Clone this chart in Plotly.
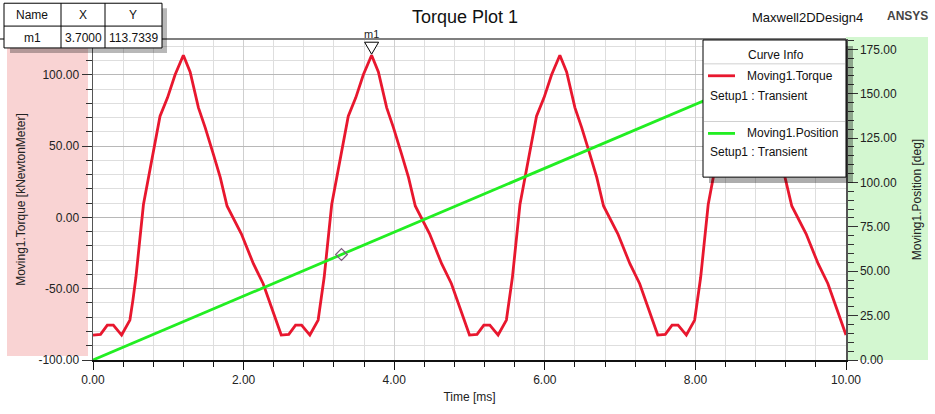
import plotly.graph_objects as go

# ---------------- data ----------------
time_ms = [
    0.00, 0.10, 0.19, 0.27, 0.38, 0.49, 0.53, 0.57, 0.67, 0.78, 0.82, 0.89, 0.99, 1.09, 1.20, 1.29, 1.40, 1.49, 1.60, 1.69, 1.78, 1.86, 1.97, 2.13, 2.26, 2.37, 2.48,
    2.50, 2.60, 2.69, 2.77, 2.88, 2.99, 3.03, 3.07, 3.17, 3.28, 3.32, 3.39, 3.49, 3.59, 3.70, 3.79, 3.90, 3.99, 4.10, 4.19, 4.28, 4.36, 4.47, 4.63, 4.76, 4.87, 4.98,
    5.00, 5.10, 5.19, 5.27, 5.38, 5.49, 5.53, 5.57, 5.67, 5.78, 5.82, 5.89, 5.99, 6.09, 6.20, 6.29, 6.40, 6.49, 6.60, 6.69, 6.78, 6.86, 6.97, 7.13, 7.26, 7.37, 7.48,
    7.50, 7.60, 7.69, 7.77, 7.88, 7.99, 8.03, 8.07, 8.17, 8.28, 8.32, 8.39, 8.49, 8.59, 8.70, 8.79, 8.90, 8.99, 9.10, 9.19, 9.28, 9.36, 9.47, 9.63, 9.76, 9.87, 9.98,
    10.00,
]
torque_kNm = [
    -82.5, -82.0, -75.5, -75.5, -82.5, -72.0, -58.0, -42.0, 9.0, 39.5, 51.0, 71.0, 84.0, 100.0, 113.73, 102.0, 77.0, 63.0, 44.0, 28.0, 8.0, 0.0, -11.5, -32.5, -46.5, -63.0, -80.5,
    -82.5, -82.0, -75.5, -75.5, -82.5, -72.0, -58.0, -42.0, 9.0, 39.5, 51.0, 71.0, 84.0, 100.0, 113.73, 102.0, 77.0, 63.0, 44.0, 28.0, 8.0, 0.0, -11.5, -32.5, -46.5, -63.0, -80.5,
    -82.5, -82.0, -75.5, -75.5, -82.5, -72.0, -58.0, -42.0, 9.0, 39.5, 51.0, 71.0, 84.0, 100.0, 113.73, 102.0, 77.0, 63.0, 44.0, 28.0, 8.0, 0.0, -11.5, -32.5, -46.5, -63.0, -80.5,
    -82.5, -82.0, -75.5, -75.5, -82.5, -72.0, -58.0, -42.0, 9.0, 39.5, 51.0, 71.0, 84.0, 100.0, 113.73, 102.0, 77.0, 63.0, 44.0, 28.0, 8.0, 0.0, -11.5, -32.5, -46.5, -63.0, -80.5,
    -82.5,
]
position_time = [0.0, 10.0]
position_deg = [0.0, 180.0]

marker_name = "m1"
marker_x = 3.7000
marker_y = 113.7339
pos_marker_x = [3.3]
pos_marker_y = [59.4]

x_tickvals = [0, 2, 4, 6, 8, 10]
x_ticktext = ["0.00", "2.00", "4.00", "6.00", "8.00", "10.00"]
yl_tickvals = [-100, -50, 0, 50, 100]
yl_ticktext = ["-100.00", "-50.00", "0.00", "50.00", "100.00"]
yr_tickvals = [0, 25, 50, 75, 100, 125, 150, 175]
yr_ticktext = ["0.00", "25.00", "50.00", "75.00", "100.00", "125.00", "150.00", "175.00"]

FONT = "Liberation Sans, Arial, sans-serif"
RED = "#e8172e"
GREEN = "#22ee22"

# ---------------- geometry helpers (pixel -> paper) ----------------
L, R, T, B = 93, 846, 39, 362
W, H = 935, 414


def px(x):
    return (x - L) / (R - L)


def py(y):
    return (B - y) / (B - T)


fig = go.Figure()

fig.add_trace(go.Scatter(x=time_ms, y=torque_kNm, mode="lines", name="Moving1.Torque",
                         line=dict(color=RED, width=2.8), yaxis="y", showlegend=False))
fig.add_trace(go.Scatter(x=position_time, y=position_deg, mode="lines", name="Moving1.Position",
                         line=dict(color=GREEN, width=2.8), yaxis="y2", showlegend=False))
fig.add_trace(go.Scatter(x=pos_marker_x, y=pos_marker_y, mode="markers", yaxis="y2", showlegend=False,
                         marker=dict(symbol="diamond-open", size=9, color="#7a5a7a", line=dict(width=1.2))))

shapes = []
annotations = []

# side bands
shapes.append(dict(type="rect", xref="paper", yref="paper", x0=px(7), x1=px(88), y0=py(358), y1=py(40),
                   fillcolor="#f9d3d3", line=dict(width=0), layer="below"))
shapes.append(dict(type="rect", xref="paper", yref="paper", x0=px(846), x1=px(928), y0=py(362), y1=py(37),
                   fillcolor="#d3f7d0", line=dict(width=0), layer="below"))
# top frame line
shapes.append(dict(type="line", xref="paper", yref="paper", x0=px(0), x1=1, y0=py(39), y1=py(39),
                   line=dict(color="#7f7f7f", width=2)))

# marker triangle m1
shapes.append(dict(type="path", xref="x", yref="y", xsizemode="pixel", ysizemode="pixel",
                   xanchor=marker_x, yanchor=marker_y, path="M -7,13 L 7,13 L 0,1 Z",
                   fillcolor="white", line=dict(color="black", width=1)))
annotations.append(dict(x=marker_x, y=marker_y, xref="x", yref="y", text=marker_name, showarrow=False,
                        yshift=21, font=dict(family=FONT, size=11, color="#222")))

# marker table
shapes.append(dict(type="rect", xref="paper", yref="paper", x0=px(10), x1=px(167), y0=py(53), y1=py(8),
                   fillcolor="rgba(0,0,0,0.28)", line=dict(width=0)))
shapes.append(dict(type="rect", xref="paper", yref="paper", x0=px(4), x1=px(162), y0=py(48), y1=py(3),
                   fillcolor="white", line=dict(color="black", width=1)))
for xv in [61, 105]:
    shapes.append(dict(type="line", xref="paper", yref="paper", x0=px(xv), x1=px(xv), y0=py(48), y1=py(3),
                       line=dict(color="black", width=1)))
shapes.append(dict(type="line", xref="paper", yref="paper", x0=px(4), x1=px(162), y0=py(26), y1=py(26),
                   line=dict(color="black", width=1)))
cells = [("Name", 32, 15), ("X", 83, 15), ("Y", 133, 15),
         (marker_name, 32, 38), (f"{marker_x:.4f}", 83, 38), (f"{marker_y:.4f}", 133, 38)]
for txt, cx, cy in cells:
    annotations.append(dict(x=px(cx), y=py(cy), xref="paper", yref="paper", text=txt, showarrow=False,
                            xanchor="center", yanchor="middle", font=dict(family=FONT, size=12, color="#111")))

# legend box
shapes.append(dict(type="rect", xref="paper", yref="paper", x0=px(709), x1=px(853), y0=py(184), y1=py(46),
                   fillcolor="rgba(0,0,0,0.32)", line=dict(width=0)))
shapes.append(dict(type="rect", xref="paper", yref="paper", x0=px(703), x1=px(846), y0=py(178), y1=py(40),
                   fillcolor="white", line=dict(color="black", width=1)))
for yv in [64, 122]:
    shapes.append(dict(type="line", xref="paper", yref="paper", x0=px(704), x1=px(845), y0=py(yv), y1=py(yv),
                       line=dict(color="#d0d0d0", width=1)))
shapes.append(dict(type="line", xref="paper", yref="paper", x0=px(708), x1=px(735), y0=py(76), y1=py(76),
                   line=dict(color=RED, width=2.8)))
shapes.append(dict(type="line", xref="paper", yref="paper", x0=px(708), x1=px(735), y0=py(134), y1=py(134),
                   line=dict(color=GREEN, width=2.8)))
leg_texts = [("Curve Info", 776, 55, "center"), ("Moving1.Torque", 745, 76, "left"),
             ("Setup1 : Transient", 708, 96, "left"), ("Moving1.Position", 745, 134, "left"),
             ("Setup1 : Transient", 708, 153, "left")]
for txt, lx, ly, anc in leg_texts:
    annotations.append(dict(x=px(lx), y=py(ly), xref="paper", yref="paper", text=txt, showarrow=False,
                            xanchor=anc, yanchor="middle", font=dict(family=FONT, size=12, color="#111")))

# titles
annotations.append(dict(x=px(465), y=py(17), xref="paper", yref="paper", text="Torque Plot 1", showarrow=False,
                        xanchor="center", yanchor="middle", font=dict(family=FONT, size=18, color="#111")))
annotations.append(dict(x=px(865), y=py(17), xref="paper", yref="paper", text="Maxwell2DDesign4", showarrow=False,
                        xanchor="right", yanchor="middle", font=dict(family=FONT, size=13, color="#111")))
annotations.append(dict(x=px(930), y=py(16), xref="paper", yref="paper", text="<b>ANSYS</b>", showarrow=False,
                        xanchor="right", yanchor="middle", font=dict(family=FONT, size=12, color="#444")))

fig.update_layout(
    width=W, height=H,
    margin=dict(l=L, r=W - R, t=T, b=H - B, pad=0),
    paper_bgcolor="white", plot_bgcolor="white",
    font=dict(family=FONT, size=12, color="#222"),
    showlegend=False, hovermode=False,
    shapes=shapes, annotations=annotations,
    xaxis=dict(range=[0, 10], tickmode="array", tickvals=x_tickvals, ticktext=x_ticktext,
               ticks="outside", ticklen=8, tickcolor="#111", showline=True, linecolor="#111", linewidth=2,
               showgrid=True, gridcolor="#cfcfcf", gridwidth=1, zeroline=False,
               minor=dict(tickmode="linear", tick0=0, dtick=0.4, ticks="outside", ticklen=5, tickcolor="#111",
                          showgrid=True, gridcolor="#dedede"),
               title=dict(text="Time [ms]", standoff=6, font=dict(size=12)),
               tickfont=dict(size=12)),
    yaxis=dict(range=[-100, 125.1], tickmode="array", tickvals=yl_tickvals, ticktext=yl_ticktext,
               ticks="outside", ticklen=10, tickcolor="#333", showline=True, linecolor="#555", linewidth=1.5,
               showgrid=True, gridcolor="#b8b8b8", zeroline=False,
               minor=dict(tickmode="linear", tick0=0, dtick=10, ticks="outside", ticklen=6, tickcolor="#333",
                          showgrid=True, gridcolor="#dedede"),
               title=dict(text="Moving1.Torque [kNewtonMeter]", standoff=10, font=dict(size=12)),
               tickfont=dict(size=12)),
    yaxis2=dict(range=[0, 180.8], overlaying="y", side="right", tickmode="array", tickvals=yr_tickvals,
                ticktext=yr_ticktext, ticks="outside", ticklen=10, tickcolor="#333", showline=True,
                linecolor="#555", linewidth=1.5, showgrid=False, zeroline=False,
                minor=dict(tickmode="linear", tick0=0, dtick=5, ticks="outside", ticklen=6, tickcolor="#333",
                           showgrid=False),
                title=dict(text="Moving1.Position [deg]", standoff=16, font=dict(size=12)),
                tickfont=dict(size=12)),
)

fig.write_html("out.html", config={"displayModeBar": False, "staticPlot": True},
               post_script="document.body.style.margin='0';document.body.style.overflow='hidden';")
